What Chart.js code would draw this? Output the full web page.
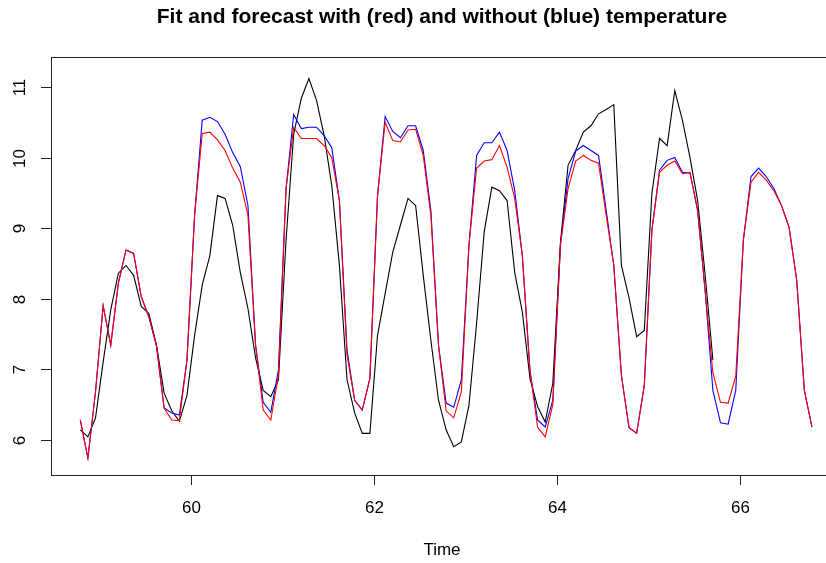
<!DOCTYPE html>
<html>
<head>
<meta charset="utf-8">
<script src="https://cdn.jsdelivr.net/npm/chart.js@4/dist/chart.umd.min.js"></script>
<style>
  html, body { margin: 0; padding: 0; background: #fff; overflow: hidden; }
  #wrap { width: 834px; height: 563px; position: relative; }
</style>
</head>
<body>
<div id="wrap"><canvas id="c"></canvas></div>
<script>
// serie de tiempo (frecuencia 12) empezando en 58.79
var inicio = 58.79;
var frecuencia = 12;

var ajusteConTemp = [6.28, 5.74, 6.68, 7.90, 7.34, 8.22, 8.69, 8.64, 8.03, 7.74, 7.33, 6.45, 6.28, 6.27, 7.13, 9.18,
  10.34, 10.36, 10.25, 10.10, 9.85, 9.65, 9.18, 7.34, 6.42, 6.28, 6.91, 9.56, 10.43, 10.27, 10.27, 10.27,
  10.17, 10.00, 9.39, 7.20, 6.56, 6.42, 6.87, 9.46, 10.50, 10.24, 10.22, 10.39, 10.40, 10.03, 9.18, 7.34,
  6.41, 6.31, 6.68, 8.76, 9.85, 9.95, 9.97, 10.17, 9.86, 9.42, 8.61, 6.98, 6.18, 6.04, 6.50, 8.76,
  9.56, 9.95, 10.03, 9.96, 9.92, 9.18, 8.47, 6.91, 6.17, 6.09, 6.77, 8.97, 9.79, 9.89, 9.95, 9.77,
  9.79, 9.25, 8.09, 6.95, 6.53, 6.52, 6.90, 8.83, 9.65, 9.79, 9.68, 9.53, 9.32, 9.01, 8.26, 6.70, 6.18];

var ajusteSinTemp = [6.28, 5.74, 6.68, 7.90, 7.34, 8.22, 8.69, 8.64, 8.03, 7.74, 7.33, 6.45, 6.38, 6.35, 7.13, 9.18,
  10.53, 10.57, 10.51, 10.33, 10.07, 9.87, 9.32, 7.34, 6.53, 6.39, 6.99, 9.56, 10.61, 10.41, 10.43, 10.43,
  10.31, 10.14, 9.39, 7.27, 6.56, 6.42, 6.87, 9.46, 10.58, 10.37, 10.28, 10.45, 10.45, 10.10, 9.25, 7.34,
  6.52, 6.46, 6.85, 8.76, 10.03, 10.21, 10.21, 10.36, 10.10, 9.53, 8.61, 6.98, 6.28, 6.18, 6.56, 8.76,
  9.70, 10.09, 10.17, 10.10, 10.03, 9.25, 8.47, 6.91, 6.17, 6.09, 6.77, 8.97, 9.82, 9.96, 10.00, 9.79,
  9.78, 9.25, 8.09, 6.70, 6.24, 6.22, 6.70, 8.83, 9.73, 9.85, 9.73, 9.56, 9.32, 9.01, 8.26, 6.70, 6.18];

var observado = [6.14, 6.04, 6.31, 7.10, 7.84, 8.36, 8.47, 8.33, 7.89, 7.79, 7.34, 6.66, 6.41, 6.26, 6.63, 7.48,
  8.19, 8.61, 9.46, 9.42, 9.04, 8.37, 7.86, 7.16, 6.70, 6.61, 6.85, 8.83, 10.33, 10.84, 11.12, 10.81,
  10.31, 9.60, 8.47, 6.85, 6.38, 6.09, 6.09, 7.48, 8.07, 8.66, 9.04, 9.42, 9.32, 8.33, 7.41, 6.56,
  6.14, 5.90, 5.97, 6.49, 7.65, 8.95, 9.58, 9.53, 9.39, 8.37, 7.81, 6.87, 6.47, 6.25, 6.80, 8.80,
  9.89, 10.10, 10.36, 10.45, 10.62, 10.68, 10.75, 8.47, 8.01, 7.46, 7.55, 9.49, 10.27, 10.17, 10.95, 10.53,
  10.00, 9.39, 8.32, 7.13];

var ticksX = [60, 62, 64, 66];
var ticksY = [6, 7, 8, 9, 10, 11];
var titulo = 'Fit and forecast with (red) and without (blue) temperature';
var tituloX = 'Time';

function aPuntos(serie) {
  return serie.map(function (v, i) { return { x: inicio + i / frecuencia, y: v }; });
}

var FUENTE = '"Liberation Sans", Arial, sans-serif';

// ejes estilo R base: caja, marcas y etiquetas
var ejesR = {
  id: 'ejesR',
  afterDraw: function (chart) {
    var ctx = chart.ctx, a = chart.chartArea;
    var sx = chart.scales.x, sy = chart.scales.y;
    ctx.save();
    ctx.strokeStyle = '#222';
    ctx.lineWidth = 1;
    ctx.strokeRect(Math.round(a.left) + 0.5, Math.round(a.top) + 0.5, Math.round(a.right - a.left) - 1, Math.round(a.bottom - a.top));
    ctx.fillStyle = '#000';
    ctx.font = '17px ' + FUENTE;
    ctx.textAlign = 'center';
    ctx.textBaseline = 'middle';
    ticksX.forEach(function (t) {
      var px = Math.round(sx.getPixelForValue(t)) + 0.5;
      ctx.beginPath(); ctx.moveTo(px, a.bottom); ctx.lineTo(px, a.bottom + 10); ctx.stroke();
      ctx.fillText(String(t), px, a.bottom + 33);
    });
    ticksY.forEach(function (t) {
      var py = Math.round(sy.getPixelForValue(t)) + 0.5;
      ctx.beginPath(); ctx.moveTo(a.left - 10, py); ctx.lineTo(a.left, py); ctx.stroke();
      ctx.save();
      ctx.translate(a.left - 31, py);
      ctx.rotate(-Math.PI / 2);
      ctx.fillText(String(t), 0, 0);
      ctx.restore();
    });
    var cx = (a.left + a.right) / 2;
    ctx.fillText(tituloX, cx, 550);
    ctx.font = 'bold 21px ' + FUENTE;
    ctx.fillText(titulo, cx, 17);
    ctx.restore();
  }
};

new Chart(document.getElementById('c'), {
  type: 'line',
  data: {
    datasets: [
      { label: 'con temperatura', data: aPuntos(ajusteConTemp), borderColor: '#ff0000' },
      { label: 'sin temperatura', data: aPuntos(ajusteSinTemp), borderColor: '#0000ff' },
      { label: 'observado', data: aPuntos(observado), borderColor: '#000000' }
    ]
  },
  options: {
    responsive: true, maintainAspectRatio: false, animation: false,
    parsing: false,
    layout: { padding: { left: 51, top: 57, right: 1, bottom: 88 } },
    elements: { line: { borderWidth: 1.1, tension: 0 }, point: { radius: 0 } },
    plugins: { legend: { display: false }, tooltip: { enabled: false }, title: { display: false } },
    scales: {
      x: { type: 'linear', display: false, min: 58.47, max: 67.02 },
      y: { type: 'linear', display: false, min: 5.5, max: 11.425 }
    }
  },
  plugins: [ejesR]
});
</script>
</body>
</html>
